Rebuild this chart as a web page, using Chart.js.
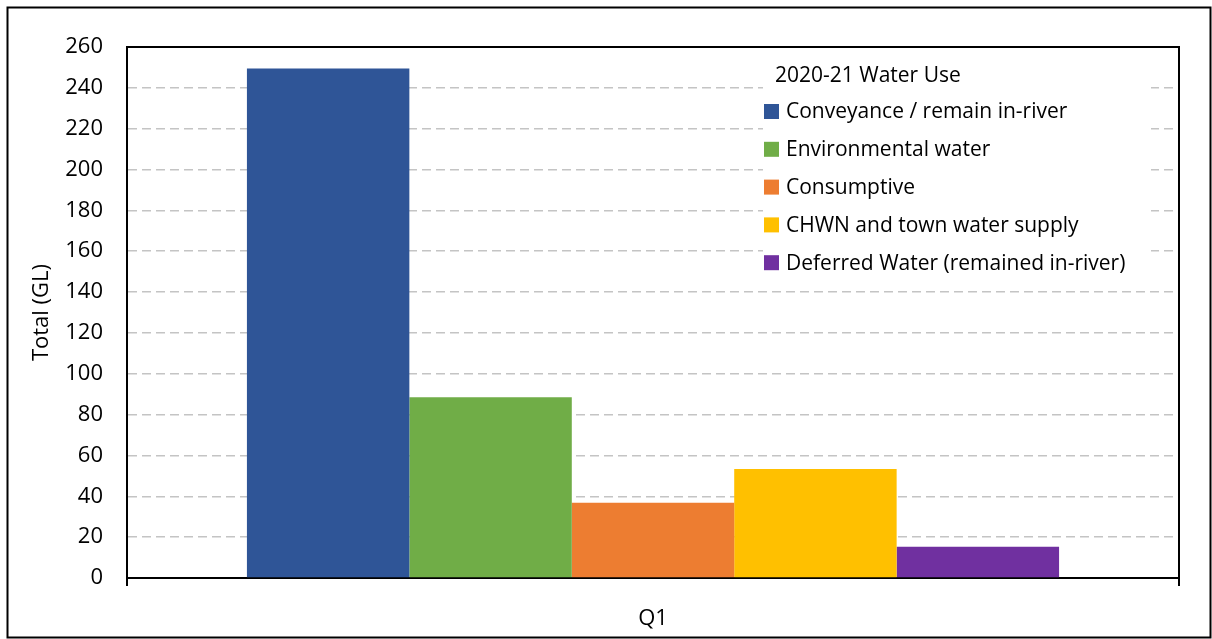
<!DOCTYPE html>
<html lang="en">
<head>
 <meta charset="UTF-8">
 <title>2020-21 Water Use</title>
 <script src="https://cdn.jsdelivr.net/npm/chart.js"></script>
 <style>
   body { margin: 0; background: #fff; }
   canvas { display: block; }
 </style>
</head>
<body>
 <canvas id="waterChart" width="1212" height="639"></canvas>

 <script>
 // values (GL)
 const categories = ['Q1'];
 const seriesNames = [
   'Conveyance / remain in-river',
   'Environmental water',
   'Consumptive',
   'CHWN and town water supply',
   'Deferred Water (remained in-river)'
 ];
 const seriesValues = [249.5, 88.5, 36.8, 53.4, 15.3];
 const seriesColors = ['#2F5597', '#70AD47', '#ED7D31', '#FFC000', '#7030A0'];
 const legendTitle = '2020-21 Water Use';
 const yTitle = 'Total (GL)';
 const yMin = 0, yMax = 260, yStep = 20;

 const FONT = '"Open Sans", Lato, sans-serif';

 // legend drawn inside the plot, on a white box that hides the grid
 const boxLegend = {
   id: 'boxLegend',
   afterDatasetsDraw(chart, args, opts) {
     const ctx = chart.ctx;
     ctx.save();
     ctx.fillStyle = '#fff';
     ctx.fillRect(opts.x, opts.y, opts.width, opts.height);
     ctx.font = '21px ' + FONT;
     ctx.textBaseline = 'middle';
     ctx.fillStyle = '#000';
     ctx.fillText(opts.title, opts.x + 12, opts.y + 16);
     chart.data.datasets.forEach((ds, i) => {
       const cy = opts.y + 51 + i * 37.8;
       ctx.fillStyle = ds.backgroundColor;
       ctx.fillRect(opts.x + 1, cy - 7, 15, 15);
       ctx.fillStyle = '#000';
       ctx.fillText(ds.label, opts.x + 23, cy + 1.5);
     });
     ctx.restore();
   }
 };

 // plot area frame + outer chart border
 const frames = {
   id: 'frames',
   afterDraw(chart) {
     const {ctx, chartArea: a} = chart;
     ctx.save();
     ctx.strokeStyle = '#000';
     ctx.lineWidth = 2;
     ctx.beginPath();
     ctx.moveTo(a.left, a.top);
     ctx.lineTo(a.right, a.top);
     ctx.lineTo(a.right, a.bottom + 8);
     ctx.moveTo(a.left, a.bottom);
     ctx.lineTo(a.left, a.bottom + 8);
     ctx.stroke();
     ctx.strokeRect(7.5, 7.5, 1203, 630);
     ctx.restore();
   }
 };

 const ctx = document.getElementById('waterChart').getContext('2d');
 const chart = new Chart(ctx, {
   type: 'bar',
   data: {
     labels: categories,
     datasets: seriesNames.map((name, i) => ({
       label: name,
       data: [seriesValues[i]],
       backgroundColor: seriesColors[i],
       borderWidth: 0
     }))
   },
   options: {
     responsive: false,
     animation: false,
     categoryPercentage: 0.772,
     barPercentage: 1.0,
     layout: { padding: { left: 25, top: 47, right: 33, bottom: 0 } },
     plugins: {
       legend: { display: false },
       tooltip: { enabled: false },
       boxLegend: { x: 763, y: 60, width: 388, height: 220, title: legendTitle }
     },
     scales: {
       x: {
         grid: { display: false, drawTicks: false },
         border: { display: true, color: '#000', width: 2 },
         ticks: { color: '#000', padding: 28, font: { family: FONT, size: 22 } },
         afterFit: s => { s.height = 61; }
       },
       y: {
         min: yMin,
         max: yMax,
         ticks: { stepSize: yStep, color: '#000', padding: 24, font: { family: FONT, size: 22 } },
         grid: { color: '#c4c4c4', lineWidth: 1.5, drawTicks: false },
         border: { display: true, color: '#000', width: 2, dash: [9, 5] },
         title: { display: true, text: yTitle, color: '#000', font: { family: FONT, size: 22 } },
         afterFit: s => { s.width = 102; }
       }
     }
   },
   plugins: [boxLegend, frames]
 });
 </script>
</body>
</html>
